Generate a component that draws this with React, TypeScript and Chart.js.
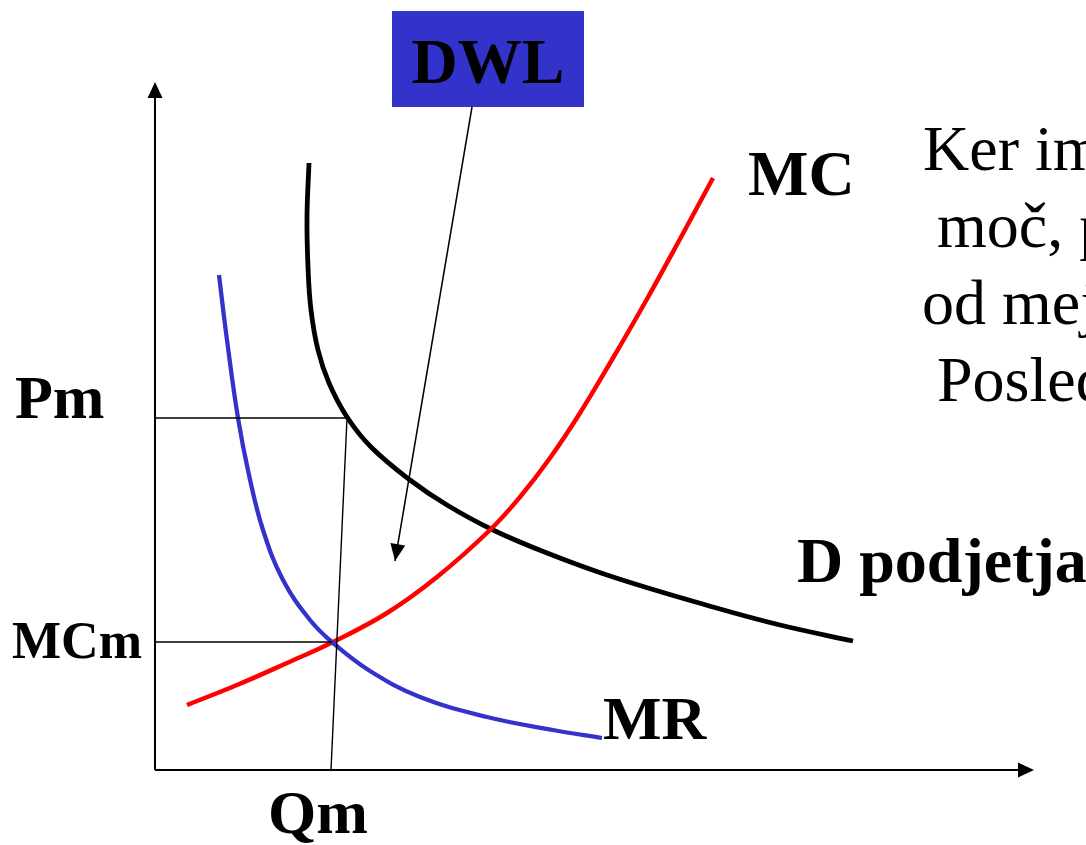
import React, { useEffect, useRef } from "react";
import { Chart, registerables } from "chart.js";

Chart.register(...registerables);

// Curves: [quantity, price] in diagram units (origin at axes crossing)
const demandCurve: [number, number][] = [
  [15.4, 60.7], [15.2, 55.3], [15.3, 50.3], [15.6, 46.0], [16.3, 42.0], [17.4, 38.7],
  [19.2, 35.3], [21.6, 32.3], [25.5, 29.0], [29.2, 26.5], [33.8, 24.0], [39.2, 21.7],
  [45.8, 19.3], [55.8, 16.3], [62.5, 14.5], [69.8, 12.9],
];
const mcCurve: [number, number][] = [
  [3.2, 6.5], [8.2, 8.5], [13.2, 10.7], [17.8, 12.8], [23.2, 15.7], [28.2, 19.3],
  [33.5, 24.0], [36.5, 27.3], [39.5, 31.2], [42.5, 35.7], [45.8, 41.2], [49.2, 47.1],
  [52.5, 53.1], [55.8, 59.2],
];
const mrCurve: [number, number][] = [
  [6.4, 49.5], [7.2, 43.0], [8.3, 35.2], [9.4, 29.5], [10.8, 24.0], [12.8, 19.0],
  [15.5, 15.0], [17.8, 12.7], [21.5, 9.9], [26.5, 7.3], [33.2, 5.3], [39.8, 4.0],
  [44.7, 3.2],
];

// Key values
const Pm = 35.2;
const MCm = 12.8;
const QmBottom = 17.6;
const QmTop = 19.2;
const MCmEnd = 17.7;

// Axes extents
const yAxisTop = 68.8;
const xAxisEnd = 87.9;

// DWL pointer: from box to area
const dwlArrowStart: [number, number] = [31.7, 66.3];
const dwlArrowEnd: [number, number] = [24.0, 20.9];
const dwlBox = { q0: 23.7, q1: 42.9, p0: 66.3, p1: 75.9 };

const axisLabels = ["Pm", "MCm", "Qm"];
const curveLabels = ["MC", "D podjetja", "MR"];
const noteLines = ["Ker im", "moč, p", "od mej", "Posled"];

const SERIF = '"Liberation Serif", "Times New Roman", serif';

type Label = { text: string; q: number; p: number; size: number; bold: boolean; align?: CanvasTextAlign };

const labels: Label[] = [
  { text: axisLabels[0], q: -14.0, p: 35.2, size: 62, bold: true },
  { text: axisLabels[1], q: -14.3, p: 11.2, size: 52, bold: true },
  { text: axisLabels[2], q: 11.3, p: -6.3, size: 62, bold: true },
  { text: curveLabels[0], q: 59.3, p: 57.5, size: 64, bold: true },
  { text: curveLabels[1], q: 64.2, p: 18.8, size: 64, bold: true },
  { text: curveLabels[2], q: 44.8, p: 3.1, size: 62, bold: true },
  { text: noteLines[0], q: 76.8, p: 60.0, size: 64, bold: false },
  { text: noteLines[1], q: 78.2, p: 52.3, size: 64, bold: false },
  { text: noteLines[2], q: 76.7, p: 44.6, size: 64, bold: false },
  { text: noteLines[3], q: 78.2, p: 36.9, size: 64, bold: false },
];

const toPts = (arr: [number, number][]) => arr.map(([x, y]) => ({ x, y }));

function arrowHead(ctx: CanvasRenderingContext2D, fx: number, fy: number, tx: number, ty: number, len: number, half: number) {
  const a = Math.atan2(ty - fy, tx - fx);
  const bx = tx - len * Math.cos(a);
  const by = ty - len * Math.sin(a);
  const nx = -Math.sin(a);
  const ny = Math.cos(a);
  ctx.beginPath();
  ctx.moveTo(tx, ty);
  ctx.lineTo(bx + nx * half, by + ny * half);
  ctx.lineTo(bx - nx * half, by - ny * half);
  ctx.closePath();
  ctx.fill();
}

const decorPlugin = {
  id: "decor",
  beforeDatasetsDraw(chart: any) {
    const { ctx, scales } = chart;
    const xs = scales.x;
    const ys = scales.y;
    ctx.save();
    ctx.fillStyle = "#3333CC";
    const x0 = xs.getPixelForValue(dwlBox.q0);
    const x1 = xs.getPixelForValue(dwlBox.q1);
    const y0 = ys.getPixelForValue(dwlBox.p1);
    const y1 = ys.getPixelForValue(dwlBox.p0);
    ctx.fillRect(x0, y0, x1 - x0, y1 - y0);
    ctx.fillStyle = "#000";
    ctx.font = `bold 64px ${SERIF}`;
    ctx.textAlign = "center";
    ctx.textBaseline = "alphabetic";
    ctx.fillText("DWL", (x0 + x1) / 2, ys.getPixelForValue(68.7));
    ctx.restore();
  },
  afterDatasetsDraw(chart: any) {
    const { ctx, scales } = chart;
    const xs = scales.x;
    const ys = scales.y;
    const X = (v: number) => xs.getPixelForValue(v);
    const Y = (v: number) => ys.getPixelForValue(v);
    ctx.save();
    ctx.fillStyle = "#000";
    // axis arrowheads
    arrowHead(ctx, X(0), Y(0), X(0), Y(yAxisTop), 16, 7.5);
    arrowHead(ctx, X(0), Y(0), X(xAxisEnd), Y(0), 16, 7.5);
    // DWL pointer head
    arrowHead(ctx, X(dwlArrowStart[0]), Y(dwlArrowStart[1]), X(dwlArrowEnd[0]), Y(dwlArrowEnd[1]), 17, 7.5);
    // labels
    ctx.textBaseline = "alphabetic";
    for (const l of labels) {
      ctx.font = `${l.bold ? "bold " : ""}${l.size}px ${SERIF}`;
      ctx.textAlign = l.align || "left";
      ctx.fillText(l.text, X(l.q), Y(l.p));
    }
    ctx.restore();
  },
};

export default function App() {
  const ref = useRef<HTMLCanvasElement | null>(null);
  useEffect(() => {
    if (!ref.current) return;
    const line = (data: { x: number; y: number }[], color: string, width: number, tension: number) => ({
      data,
      borderColor: color,
      backgroundColor: color,
      borderWidth: width,
      pointRadius: 0,
      showLine: true,
      tension,
      fill: false,
      borderCapStyle: "butt" as const,
      borderJoinStyle: "round" as const,
    });
    const chart = new Chart(ref.current, {
      type: "scatter",
      data: {
        datasets: [
          line([{ x: 0, y: 0 }, { x: 0, y: yAxisTop - 1.2 }], "#000", 2, 0),
          line([{ x: 0, y: 0 }, { x: xAxisEnd - 1.2, y: 0 }], "#000", 2, 0),
          line([{ x: 0, y: Pm }, { x: QmTop, y: Pm }], "#000", 1.6, 0),
          line([{ x: 0, y: MCm }, { x: MCmEnd, y: MCm }], "#000", 1.6, 0),
          line([{ x: QmBottom, y: 0 }, { x: QmTop, y: Pm }], "#000", 1.4, 0),
          line([{ x: dwlArrowStart[0], y: dwlArrowStart[1] }, { x: dwlArrowEnd[0], y: dwlArrowEnd[1] }], "#000", 1.5, 0),
          line(toPts(mrCurve), "#3333CC", 4.3, 0.4),
          line(toPts(mcCurve), "#FF0000", 4.5, 0.4),
          line(toPts(demandCurve), "#000000", 4.8, 0.4),
        ],
      },
      options: {
        animation: false,
        responsive: false,
        maintainAspectRatio: false,
        layout: { padding: 0 },
        events: [],
        plugins: { legend: { display: false }, tooltip: { enabled: false }, title: { display: false } },
        scales: {
          x: { type: "linear", min: -15.5, max: 93.1, display: false },
          y: { type: "linear", min: -7.5, max: 77.0, display: false },
        },
      },
      plugins: [decorPlugin],
    });
    return () => chart.destroy();
  }, []);
  return (
    <div style={{ position: "absolute", left: 0, top: 0, width: 1086, height: 845, background: "#fff" }}>
      <canvas ref={ref} width={1086} height={845} style={{ display: "block" }} />
    </div>
  );
}
